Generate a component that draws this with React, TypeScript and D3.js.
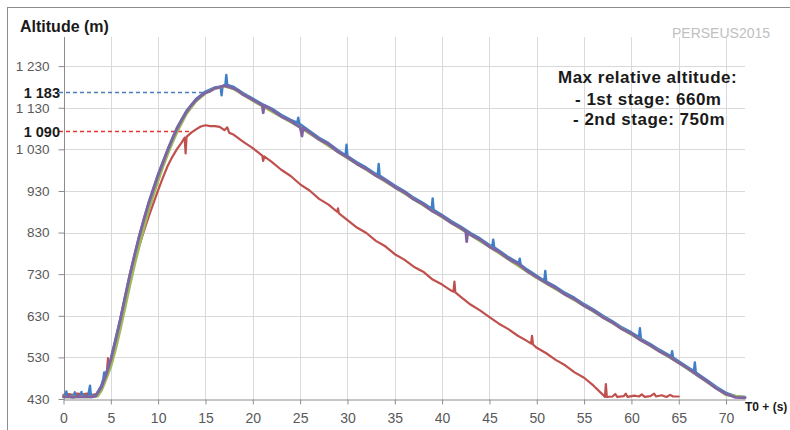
import * as d3 from 'd3';
import { useEffect, useRef } from 'react';

// y axis ticks (m) and x axis ticks (s after T0)
const yTicks = [430, 530, 630, 730, 830, 930, 1030, 1130, 1230];
const xTicks = [0, 5, 10, 15, 20, 25, 30, 35, 40, 45, 50, 55, 60, 65, 70];

// 2nd stage, purple trace [t, altitude]
const stage2Purple: [number, number][] = [
  [0, 435], [0.5, 436], [1, 434], [1.5, 436], [2, 435], [2.5, 436], [3, 435], [3.4, 437], [4, 458],
  [4.5, 488], [5, 524], [5.5, 570], [6, 620], [6.5, 674], [7, 726], [7.5, 775], [8, 820], [8.5, 862],
  [9, 900], [9.5, 934], [10, 968], [10.5, 998], [11, 1027], [11.5, 1055], [12, 1080], [12.5, 1101],
  [13, 1120], [13.5, 1136], [14, 1148], [14.5, 1158], [15, 1166], [15.5, 1170], [16, 1177],
  [16.5, 1179], [17, 1183], [17.5, 1180], [18, 1176], [18.5, 1170], [19, 1161], [20, 1149],
  [21, 1136], [21.1, 1118], [21.2, 1135], [22, 1125], [23, 1109], [24, 1098], [25, 1083],
  [25.2, 1062], [25.3, 1081], [26, 1071], [27, 1054], [28, 1042], [29, 1024], [30, 1011], [31, 995],
  [32, 983], [33, 967], [34, 955], [35, 939], [36, 927], [37, 910], [38, 898], [39, 881], [40, 869],
  [41, 853], [42, 841], [42.5, 833], [42.6, 808], [42.7, 831], [43, 825], [44, 813], [45, 796],
  [46, 784], [47, 767], [48, 755], [49, 737], [50, 723], [51, 709], [52, 697], [53, 681], [54, 670],
  [55, 654], [56, 642], [57, 626], [58, 614], [59, 598], [60, 587], [61, 571], [62, 559], [63, 544],
  [64, 532], [65, 517], [66, 503], [67, 487], [68, 472], [69, 455], [70, 442], [71, 434], [72, 433],
];

// 2nd stage, blue trace (noisier, rides just above the purple one)
const stage2Blue: [number, number][] = [
  [0, 437], [0.2, 437], [0.3, 448], [0.4, 437], [1, 438], [1.1, 437], [1.2, 446], [1.3, 437],
  [1.8, 438], [1.9, 447], [2, 438], [2.6, 437], [2.8, 462], [2.9, 437], [3.4, 439], [4, 462],
  [4.2, 478], [4.3, 494], [4.4, 484], [5, 527], [6, 623], [7, 729], [8, 823], [9, 903], [10, 971],
  [11, 1030], [12, 1083], [13, 1123], [14, 1151], [15, 1169], [16, 1179], [16.6, 1181], [16.7, 1160],
  [16.8, 1182], [17.1, 1185], [17.2, 1209], [17.3, 1185], [18, 1180], [19, 1165], [20, 1152],
  [21, 1139], [22, 1128], [23, 1113], [24, 1101], [24.7, 1094], [24.8, 1106], [24.9, 1092],
  [26, 1074], [27, 1058], [28, 1045], [29, 1028], [29.8, 1016], [29.9, 1041], [30, 1014], [31, 999],
  [32, 986], [33, 971], [33.2, 969], [33.3, 995], [33.4, 967], [34, 958], [35, 943], [36, 930],
  [37, 914], [38, 901], [38.9, 887], [39, 912], [39.1, 885], [40, 872], [41, 857], [42, 844],
  [43, 829], [44, 816], [45, 800], [45.3, 797], [45.4, 813], [45.5, 795], [46, 787], [47, 771],
  [48, 758], [48.1, 756], [48.2, 767], [48.3, 753], [49, 741], [50, 726], [50.8, 714], [50.9, 738],
  [51, 712], [52, 700], [53, 685], [54, 673], [55, 658], [56, 645], [57, 630], [58, 617], [59, 602],
  [60, 590], [60.8, 579], [60.9, 600], [61, 575], [62, 562], [63, 548], [64, 535], [64.2, 532],
  [64.3, 545], [64.4, 530], [65, 521], [66, 506], [66.6, 497], [66.7, 518], [66.8, 494], [67, 491],
  [68, 475], [69, 459], [70, 445], [71, 437], [72, 435],
];

// 2nd stage, green trace (lags slightly in the climb)
const stage2Green: [number, number][] = [
  [0, 435], [3, 435], [3.6, 437], [4, 450], [4.5, 478], [5, 508], [5.5, 550], [6, 598], [6.5, 650],
  [7, 702], [7.5, 752], [8, 798], [8.5, 842], [9, 884], [9.5, 920], [10, 955], [10.5, 988],
  [11, 1018], [11.5, 1046], [12, 1072], [13, 1116], [14, 1146], [15, 1165], [16, 1176], [17, 1182],
  [18, 1175], [20, 1147], [25, 1083], [30, 1009], [35, 939], [40, 867], [45, 796], [50, 721],
  [55, 654], [60, 585], [65, 517], [70, 440], [72, 434],
];

// 1st stage, red trace
const stage1Red: [number, number][] = [
  [0, 440], [0.5, 442], [1, 440], [1.5, 443], [2, 441], [2.5, 443], [3, 440], [3.5, 442], [4, 462],
  [4.5, 490], [4.6, 500], [4.7, 528], [4.8, 502], [5, 522], [6, 616], [7, 716], [7.5, 760], [8, 798],
  [8.5, 834], [9, 868], [9.5, 900], [10, 932], [10.5, 962], [11, 990], [11.5, 1012], [12, 1031],
  [12.5, 1047], [12.8, 1058], [12.9, 1020], [13, 1060], [13.5, 1070], [14, 1078], [14.5, 1085],
  [15, 1088], [15.5, 1086], [16, 1086], [16.5, 1084], [17, 1076], [17.3, 1083], [17.5, 1070],
  [18, 1065], [19, 1048], [20, 1033], [21, 1015], [21.1, 1002], [21.2, 1013], [22, 1000], [23, 981],
  [24, 966], [25, 946], [26, 931], [27, 911], [28, 897], [28.9, 880], [29, 888], [29.1, 876],
  [30, 860], [31, 842], [32, 829], [33, 810], [34, 797], [35, 778], [36, 765], [37, 748], [38, 736],
  [39, 717], [40, 705], [41, 690], [41.2, 688], [41.3, 712], [41.4, 686], [42, 675], [43, 657],
  [44, 643], [45, 627], [46, 611], [47, 598], [48, 582], [49, 569], [49.4, 563], [49.5, 582],
  [49.6, 561], [50, 553], [51, 540], [52, 524], [53, 511], [54, 494], [55, 481], [56, 462],
  [57, 440], [57.2, 435], [57.3, 466], [57.4, 435], [58, 436], [58.3, 442], [58.5, 435], [59.2, 437],
  [59.4, 443], [59.6, 435], [60.3, 438], [60.8, 436], [61.1, 441], [61.4, 435], [62, 437],
  [62.4, 443], [62.6, 436], [63.2, 439], [63.7, 435], [64.1, 440], [64.4, 436], [65, 436],
];

// peak annotations: label text, level of the dashed guide, time where it meets the curve
const peakLabels = ['1 183', '1 090'];
const peakLevels = [1168, 1073];
const peakReachT = [15, 13.3];
const peakColors = ['#4a7ebb', '#e8332e'];

const noteLines = ['Max relative altitude:', '- 1st stage: 660m', '- 2nd stage: 750m'];

const W = 790;
const H = 430;

const App = () => {
  const svgRef = useRef<SVGSVGElement>(null);

  useEffect(() => {
    const svg = d3.select(svgRef.current!);
    svg.selectAll('*').remove();

    const x = d3.scaleLinear([0, 72], [63.5, 745]);
    const y = d3.scaleLinear([430, 1300], [399, 37]);
    const fmt = d3.formatLocale({ decimal: '.', thousands: ' ', grouping: [3], currency: ['', ''] }).format(',');

    svg.append('rect').attr('width', W).attr('height', H).attr('fill', '#fff');
    svg.append('rect')
      .attr('x', 7.5).attr('y', 7.5).attr('width', 900).attr('height', 600)
      .attr('fill', 'none').attr('stroke', '#8c8c8c').attr('stroke-width', 1);

    // gridlines
    svg.append('g').selectAll('line').data(yTicks.slice(1)).join('line')
      .attr('x1', x(0)).attr('x2', x(72))
      .attr('y1', d => Math.round(y(d)) + 0.5).attr('y2', d => Math.round(y(d)) + 0.5)
      .attr('stroke', '#d9d9d9');
    svg.append('g').selectAll('line').data(xTicks.slice(1)).join('line')
      .attr('x1', d => Math.round(x(d)) + 0.5).attr('x2', d => Math.round(x(d)) + 0.5)
      .attr('y1', y(1300)).attr('y2', y(430))
      .attr('stroke', '#d9d9d9');

    // axes
    const yAxis = svg.append('g')
      .attr('transform', `translate(${Math.round(x(0)) + 0.5},0)`)
      .call(d3.axisLeft(y).tickValues(yTicks).tickSize(6).tickPadding(9).tickFormat(d => fmt(d as number)));
    yAxis.select('.domain').attr('stroke', '#8c8c8c').attr('d', `M0,${y(1300)}V${y(430)}`);
    yAxis.selectAll('.tick line').attr('stroke', '#8c8c8c');
    yAxis.selectAll('.tick text')
      .attr('fill', '#595959').attr('font-size', 13.5).attr('font-family', 'Liberation Sans, Arial, sans-serif');

    const xAxis = svg.append('g')
      .attr('transform', `translate(0,${Math.round(y(430)) + 0.5})`)
      .call(d3.axisBottom(x).tickValues(xTicks).tickSize(5).tickPadding(9).tickSizeOuter(0));
    xAxis.select('.domain').attr('stroke', '#8c8c8c');
    xAxis.selectAll('.tick line').attr('stroke', '#8c8c8c');
    xAxis.selectAll('.tick text')
      .attr('fill', '#595959').attr('font-size', 14).attr('font-family', 'Liberation Sans, Arial, sans-serif');

    // dashed peak guides
    peakLabels.forEach((lab, i) => {
      const ly = Math.round(y(peakLevels[i])) + 0.5;
      svg.append('line')
        .attr('x1', 59).attr('x2', x(peakReachT[i]))
        .attr('y1', ly).attr('y2', ly)
        .attr('stroke', peakColors[i]).attr('stroke-width', 1.4).attr('stroke-dasharray', '4,3');
      svg.append('text')
        .attr('x', 60).attr('y', ly + 5)
        .attr('text-anchor', 'end')
        .attr('font-family', 'Liberation Sans, Arial, sans-serif')
        .attr('font-weight', 'bold').attr('font-size', 14.5).attr('fill', '#1a1a1a')
        .text(lab);
    });

    const line = d3.line<[number, number]>().x(d => x(d[0])).y(d => y(d[1]));
    const series: [[number, number][], string, number][] = [
      [stage1Red, '#c0504d', 2.2],
      [stage2Blue, '#3f7fc7', 2.4],
      [stage2Green, '#9bbb59', 2.8],
      [stage2Purple, '#8064a2', 2.8],
    ];
    series.forEach(([data, color, w]) => {
      svg.append('path')
        .attr('d', line(data))
        .attr('fill', 'none').attr('stroke', color).attr('stroke-width', w)
        .attr('stroke-linejoin', 'round').attr('stroke-linecap', 'round');
    });

    // titles and notes
    svg.append('text')
      .attr('x', 20).attr('y', 32)
      .attr('font-family', 'Liberation Sans, Arial, sans-serif')
      .attr('font-weight', 'bold').attr('font-size', 16).attr('fill', '#1a1a1a')
      .text('Altitude (m)');
    svg.append('text')
      .attr('x', 745).attr('y', 411)
      .attr('font-family', 'Liberation Sans, Arial, sans-serif')
      .attr('font-weight', 'bold').attr('font-size', 12).attr('fill', '#1a1a1a')
      .text('T0 + (s)');
    svg.append('text')
      .attr('x', 672).attr('y', 38)
      .attr('font-family', 'Liberation Sans, Arial, sans-serif')
      .attr('font-size', 14).attr('fill', '#c0c0c0')
      .text('PERSEUS2015');

    const noteX = [558, 575, 573];
    const noteY = [83, 105, 125];
    noteLines.forEach((t, i) => {
      svg.append('text')
        .attr('x', noteX[i]).attr('y', noteY[i])
        .attr('font-family', 'Liberation Sans, Arial, sans-serif')
        .attr('font-weight', 'bold').attr('font-size', 17).attr('fill', '#1a1a1a')
        .attr('letter-spacing', 0.5)
        .text(t);
    });
  }, []);

  return (
    <svg
      ref={svgRef}
      width={W}
      height={H}
      viewBox={`0 0 ${W} ${H}`}
      style={{ position: 'absolute', left: 0, top: 0 }}
    />
  );
};

export default App;
